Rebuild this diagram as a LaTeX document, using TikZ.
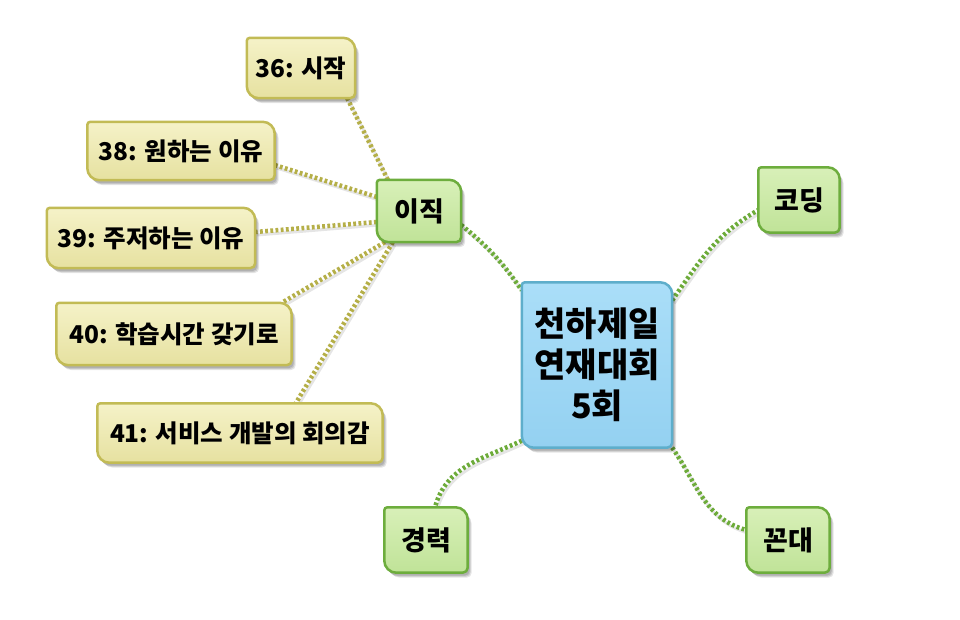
\documentclass[tikz,border=0pt]{standalone}
\usepackage{fontspec}
\setmainfont{Noto Sans CJK KR}
\pgfdeclarelayer{bg}
\pgfdeclarelayer{edges}
\pgfdeclarelayer{boxes}
\pgfsetlayers{bg,edges,boxes,main}
\definecolor{ytop}{HTML}{F5F2C8}
\definecolor{ybot}{HTML}{E6E1A0}
\definecolor{ydraw}{HTML}{C2BB55}
\definecolor{gtop}{HTML}{D8F0B8}
\definecolor{gbot}{HTML}{C0E398}
\definecolor{gdraw}{HTML}{6DAD3D}
\definecolor{btop}{HTML}{AADEF8}
\definecolor{bbot}{HTML}{94D1F1}
\definecolor{bdraw}{HTML}{5EAECB}
\definecolor{olive}{HTML}{B5AF48}
\definecolor{leaf}{HTML}{6DAB3A}
\tikzset{
  lbl/.style={font=\bfseries\fontsize{24.5}{28}\selectfont, inner sep=0pt},
  glbl/.style={font=\bfseries\fontsize{27}{30}\selectfont, inner sep=0pt},
  softshadow/.style={
    preaction={fill=black, opacity=0.10, transform canvas={shift={(4pt,-5pt)}}},
    preaction={fill=black, opacity=0.12, transform canvas={shift={(3pt,-4pt)}}},
    preaction={fill=black, opacity=0.12, transform canvas={shift={(2pt,-3pt)}}}},
  yshape/.style={softshadow, top color=ytop, bottom color=ybot, draw=ydraw, line width=2.5pt},
  gshape/.style={softshadow, top color=gtop, bottom color=gbot, draw=gdraw, line width=2.5pt},
  bshape/.style={softshadow, top color=btop, bottom color=bbot, draw=bdraw, line width=2.5pt},
  dotline/.style={line width=4.5pt, dash pattern=on 2.8pt off 2.4pt,
    preaction={draw=black, opacity=0.10, line width=3pt, solid, transform canvas={shift={(2pt,-3pt)}}}},
  oedge/.style={dotline, draw=olive},
  gedge/.style={dotline, draw=leaf},
}
\newcommand\leafbox[2]{%
  \begin{pgfonlayer}{boxes}
  \path[#2] (#1.west) [rounded corners=3pt] -- (#1.north west) [rounded corners=12pt] -- (#1.north east)
    [rounded corners=5pt] -- (#1.south east) [rounded corners=12pt] -- (#1.south west) [sharp corners] -- cycle;
  \end{pgfonlayer}}
\begin{document}
\begin{tikzpicture}[x=1pt,y=1pt]
\useasboundingbox (0,0) rectangle (960,-620);
\begin{pgfonlayer}{bg}
\fill[white] (0,0) rectangle (960,-620);
\end{pgfonlayer}
% nodes
\node[lbl, minimum width=108pt, minimum height=60pt] (n36) at (301,-68) {36: 시작};
\node[lbl, minimum width=187pt, minimum height=58pt] (n38) at (181,-151) {38: 원하는 이유};
\node[lbl, minimum width=208pt, minimum height=60pt] (n39) at (151,-238) {39: 주저하는 이유};
\node[lbl, minimum width=235pt, minimum height=62pt] (n40) at (174,-334) {40: 학습시간 갖기로};
\node[lbl, minimum width=285pt, minimum height=59pt] (n41) at (240,-433) {41: 서비스 개발의 회의감};
\node[glbl, minimum width=84pt, minimum height=62pt] (ij) at (419,-211) {이직};
\node[lbl, font=\bfseries\fontsize{34}{41}\selectfont, align=center, minimum width=150pt, minimum height=165pt] (c) at (597,-365) {천하제일\\연재대회\\5회};
\node[glbl, minimum width=81pt, minimum height=65pt] (kod) at (799,-200) {코딩};
\node[glbl, minimum width=83pt, minimum height=65pt] (ky) at (426,-540) {경력};
\node[glbl, minimum width=83pt, minimum height=65pt] (kd) at (788,-540) {꼰대};
% shapes
\leafbox{n36}{yshape}
\leafbox{n38}{yshape}
\leafbox{n39}{yshape}
\leafbox{n40}{yshape}
\leafbox{n41}{yshape}
\leafbox{ij}{gshape}
\leafbox{kod}{gshape}
\leafbox{ky}{gshape}
\leafbox{kd}{gshape}
\leafbox{c}{bshape}
% edges
\begin{pgfonlayer}{edges}
\draw[oedge] ([xshift=11pt]ij.north west) -- ([xshift=-8pt]n36.south east);
\draw[oedge] ([yshift=14pt]ij.west) -- ([yshift=-14pt]n38.east);
\draw[oedge] ([yshift=-11pt]ij.west) -- ([yshift=6pt]n39.east);
\draw[oedge] ([xshift=8pt]ij.south west) -- ([xshift=-10pt]n40.north east);
\draw[oedge] ([xshift=16pt]ij.south west) -- ([xshift=-87pt]n41.north east);
\draw[gedge] ([yshift=-14pt]ij.east) to[bend left=8] ([yshift=-8pt]c.north west);
\draw[gedge] ([yshift=-18pt]c.north east) to[out=55,in=210] ([yshift=-10pt]kod.west);
\draw[gedge] ([yshift=7pt]c.south west) to[out=205,in=75] ([xshift=9pt]ky.north);
\draw[gedge] (c.south east) to[out=-55,in=165] ([yshift=10pt]kd.west);
\end{pgfonlayer}
\end{tikzpicture}
\end{document}
